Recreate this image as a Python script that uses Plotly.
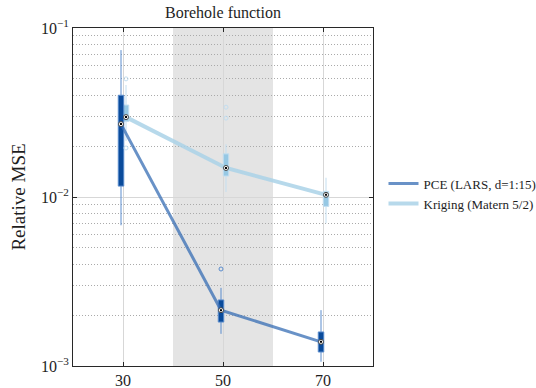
import plotly.graph_objects as go

sizes = [30, 50, 70]
series = ["PCE (LARS, d=1:15)", "Kriging (Matern 5/2)"]
offsets = [-0.4, 0.6]

pce_low = [0.0068, 0.00155, 0.00106]
pce_q1 = [0.0116, 0.00182, 0.00121]
pce_med = [0.027, 0.00214, 0.00139]
pce_q3 = [0.040, 0.00246, 0.00159]
pce_high = [0.074, 0.0029, 0.00214]
pce_out_x = [50]
pce_out_y = [0.00375]

kr_low = [0.0215, 0.0107, 0.0070]
kr_q1 = [0.028, 0.0133, 0.0088]
kr_med = [0.0297, 0.01485, 0.0103]
kr_q3 = [0.035, 0.0180, 0.0108]
kr_high = [0.046, 0.0205, 0.0130]
kr_out_x = [30, 30, 50, 50]
kr_out_y = [0.050, 0.0195, 0.034, 0.0293]

yticks = [1e-3, 1e-2, 1e-1]
yticktext = ["10<sup>\u22123</sup>", "10<sup>\u22122</sup>", "10<sup>\u22121</sup>"]
minor_vals = [m * 10 ** e for e in (-3, -2) for m in range(2, 10)]

pce_box = "rgb(10,75,155)"
pce_whisk = "rgb(90,140,205)"
pce_line = "rgba(55,110,180,0.75)"
kr_box = "rgb(150,200,228)"
kr_whisk = "rgb(195,222,240)"
kr_line = "rgba(170,210,232,0.85)"

FONT = "Liberation Serif"

fig = go.Figure()

def add_series(name, off, low, q1, med, q3, high, ox, oy, boxc, whc, linec, lw):
    xs = [s + off for s in sizes]
    fig.add_trace(go.Box(x=xs, q1=q1, median=med, q3=q3, lowerfence=low, upperfence=high,
                         width=1.1, fillcolor=boxc, line=dict(color=whc, width=1),
                         whiskerwidth=0, boxpoints=False, showlegend=False, hoverinfo="skip"))
    fig.add_trace(go.Scatter(x=[x + off for x in ox], y=oy, mode="markers",
                             marker=dict(symbol="circle-open", size=4, color=whc, line=dict(width=1)),
                             showlegend=False))
    fig.add_trace(go.Scatter(x=xs, y=med, mode="lines", name=name,
                             line=dict(color=linec, width=lw)))
    fig.add_trace(go.Scatter(x=xs, y=med, mode="markers",
                             marker=dict(symbol="circle", size=5, color="white",
                                         line=dict(color="rgb(70,70,70)", width=1)),
                             showlegend=False))
    fig.add_trace(go.Scatter(x=xs, y=med, mode="markers",
                             marker=dict(symbol="square", size=2, color="black"),
                             showlegend=False))

add_series(series[1], offsets[1], kr_low, kr_q1, kr_med, kr_q3, kr_high, kr_out_x, kr_out_y,
           kr_box, kr_whisk, kr_line, 4)
add_series(series[0], offsets[0], pce_low, pce_q1, pce_med, pce_q3, pce_high, pce_out_x, pce_out_y,
           pce_box, pce_whisk, pce_line, 3)

fig.add_shape(type="rect", xref="x", yref="paper", x0=40, x1=60, y0=0, y1=1,
              fillcolor="rgb(228,228,228)", line=dict(width=0), layer="below")

fig.update_layout(
    width=536, height=388,
    margin=dict(l=73, r=163, t=28, b=22, autoexpand=False),
    paper_bgcolor="white", plot_bgcolor="white",
    boxmode="overlay",
    font=dict(family=FONT, color="rgb(30,30,30)", size=14),
    title=dict(text="Borehole function", x=0.5, xref="paper", y=1, yref="container",
               yanchor="top", pad=dict(t=7), font=dict(size=16, family=FONT)),
    legend=dict(x=1.035, y=0.51, xanchor="left", yanchor="middle", traceorder="reversed",
                font=dict(size=13, family=FONT), bgcolor="rgba(0,0,0,0)",
                tracegroupgap=0, itemwidth=30),
    xaxis=dict(range=[20, 80], tickvals=sizes, ticktext=[str(s) for s in sizes],
               showgrid=True, gridcolor="rgb(215,215,215)", gridwidth=1,
               ticks="inside", ticklen=4, tickcolor="rgb(40,40,40)",
               showline=True, linecolor="rgb(40,40,40)", linewidth=1, mirror="allticks",
               zeroline=False, tickfont=dict(size=16, family=FONT), automargin=False),
    yaxis=dict(type="log", range=[-3, -1], tickvals=yticks, ticktext=yticktext,
               showgrid=True, gridcolor="rgb(215,215,215)", gridwidth=1,
               ticks="inside", ticklen=4, tickcolor="rgb(40,40,40)",
               showline=True, linecolor="rgb(40,40,40)", linewidth=1, mirror="allticks",
               zeroline=False, tickfont=dict(size=16, family=FONT), automargin=False,
               title=dict(text="Relative MSE", font=dict(size=19, family=FONT), standoff=10),
               minor=dict(tickvals=minor_vals, showgrid=True, griddash="1px,2px",
                          gridcolor="rgb(170,170,170)", gridwidth=1, ticks="")),
)

fig.write_html("out.html")
